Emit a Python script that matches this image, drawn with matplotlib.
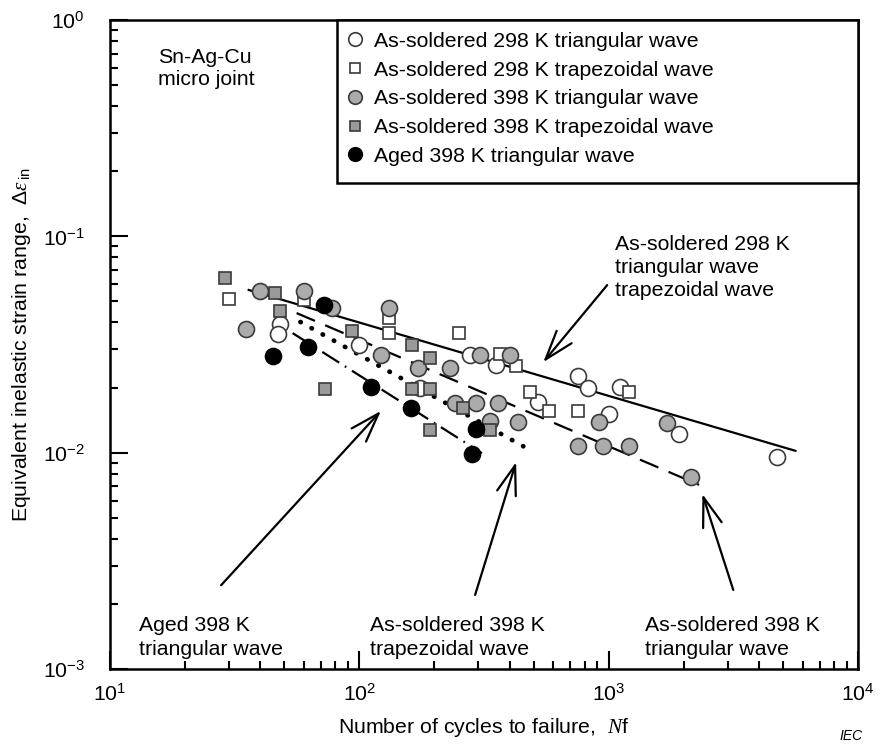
"""
Fatigue life of Sn-Ag-Cu micro joints: inelastic strain range vs cycles to failure.
"""

import matplotlib
matplotlib.use('Agg')
import matplotlib.pyplot as plt
from matplotlib.patches import Rectangle
from matplotlib.ticker import LogLocator

plt.rcParams['font.family'] = ['Liberation Sans', 'DejaVu Sans']
plt.rcParams['mathtext.fontset'] = 'custom'
plt.rcParams['mathtext.rm'] = 'Liberation Sans'
plt.rcParams['mathtext.it'] = 'Liberation Serif:italic'
plt.rcParams['mathtext.bf'] = 'Liberation Sans:bold'

# ============================================================================
# DATA
# ============================================================================

# As-soldered 298 K, triangular wave
n_298_tri = [48, 47, 100, 175, 278, 353, 521, 754, 826, 1004, 1112, 1915, 4745]
e_298_tri = [0.0393, 0.0353, 0.0314, 0.0199, 0.0283, 0.0254, 0.0171, 0.0226,
             0.0199, 0.0151, 0.0201, 0.0122, 0.0096]

# As-soldered 298 K, trapezoidal wave
n_298_trap = [30, 60, 131, 131, 251, 367, 425, 484, 577, 754, 1208]
e_298_trap = [0.0513, 0.0508, 0.0419, 0.0357, 0.0357, 0.0286, 0.0251,
              0.0191, 0.0156, 0.0156, 0.0191]

# As-soldered 398 K, triangular wave
n_398_tri = [35, 40, 60, 78, 131, 122, 172, 231, 242, 294, 360, 305, 402,
             334, 434, 914, 754, 950, 1208, 1714, 2141]
e_398_tri = [0.0373, 0.0559, 0.0559, 0.0466, 0.0466, 0.0283, 0.0246, 0.0246,
             0.0170, 0.0170, 0.0170, 0.0283, 0.0283, 0.0140, 0.0138, 0.0138,
             0.0107, 0.0107, 0.0107, 0.0137, 0.0077]

# As-soldered 398 K, trapezoidal wave
n_398_trap = [29, 46, 48, 93, 73, 163, 192, 163, 192, 192, 261, 334]
e_398_trap = [0.0641, 0.0547, 0.0451, 0.0365, 0.0197, 0.0314, 0.0274,
              0.0197, 0.0197, 0.0127, 0.0161, 0.0127]

# Aged 398 K, triangular wave
n_aged = [45, 72, 62, 111, 161, 294, 283]
e_aged = [0.0280, 0.0481, 0.0308, 0.0201, 0.0161, 0.0129, 0.0099]

# Fitted lines (end points)
fit_298_n = [36, 5600]
fit_298_e = [0.0565, 0.0102]
fit_398_tri_n = [56, 2300]
fit_398_tri_e = [0.0442, 0.0071]
fit_398_trap_n = [58, 454]
fit_398_trap_e = [0.0402, 0.0107]
fit_aged_n = [54, 310]
fit_aged_e = [0.0357, 0.00995]

LABELS = [
    'As-soldered 298 K triangular wave',
    'As-soldered 298 K trapezoidal wave',
    'As-soldered 398 K triangular wave',
    'As-soldered 398 K trapezoidal wave',
    'Aged 398 K triangular wave',
]

FS = 15.3
EDGE = '#3a3a3a'
GRAY_C = '#ababab'
GRAY_S = '#9a9a9a'

# ============================================================================
# FIGURE
# ============================================================================

fig = plt.figure(figsize=(8.94, 7.47), dpi=100)
ax = fig.add_axes([0.123, 0.1044, 0.837, 0.8688])
ax.set_xscale('log')
ax.set_yscale('log')
ax.set_xlim(10, 1e4)
ax.set_ylim(1e-3, 1)

# fit lines
ax.plot(fit_298_n, fit_298_e, color='black', lw=1.6, zorder=2)
ax.plot(fit_398_tri_n, fit_398_tri_e, color='black', lw=1.6,
        linestyle=(0, (9, 5)), zorder=2)
ax.plot(fit_398_trap_n, fit_398_trap_e, color='black', lw=3.4,
        linestyle=(0, (0.1, 2.6)), dash_capstyle='round', zorder=2)
ax.plot(fit_aged_n, fit_aged_e, color='black', lw=1.6,
        linestyle=(0, (9, 3, 0.8, 3)), zorder=2)

# data points
h1, = ax.plot(n_298_tri, e_298_tri, 'o', ms=11.5, mfc='white', mec=EDGE, mew=1.2,
              ls='none', zorder=3)
h2, = ax.plot(n_298_trap, e_298_trap, 's', ms=9, mfc='white', mec=EDGE, mew=1.2,
              ls='none', zorder=3)
h3, = ax.plot(n_398_tri, e_398_tri, 'o', ms=11.5, mfc=GRAY_C, mec=EDGE, mew=1.2,
              ls='none', zorder=3)
h4, = ax.plot(n_398_trap, e_398_trap, 's', ms=9, mfc=GRAY_S, mec=EDGE, mew=1.2,
              ls='none', zorder=3)
h5, = ax.plot(n_aged, e_aged, 'o', ms=11.5, mfc='black', mec='black', mew=1.2,
              ls='none', zorder=3)

# legend box drawn by hand, it is wider than its contents
ax.add_patch(Rectangle((0.3035, 0.749), 0.6965, 0.251, transform=ax.transAxes,
                       fill=True, fc='white', ec='black', lw=1.8, zorder=5,
                       clip_on=False))
leg = ax.legend([h1, h2, h3, h4, h5], LABELS, loc='upper left',
                bbox_to_anchor=(0.305, 0.995), borderaxespad=0, frameon=False,
                fontsize=FS, handlelength=0.8, handletextpad=0.5,
                labelspacing=0.46, markerscale=0.85)
leg.set_zorder(6)

# annotations
ax.text(0.064, 0.957, 'Sn-Ag-Cu\nmicro joint', transform=ax.transAxes,
        fontsize=FS, va='top', ha='left', linespacing=1.2)
ax.text(0.675, 0.668, 'As-soldered 298 K\ntriangular wave\ntrapezoidal wave',
        transform=ax.transAxes, fontsize=FS, va='top', ha='left', linespacing=1.26)
ax.text(0.039, 0.082, 'Aged 398 K\ntriangular wave', transform=ax.transAxes,
        fontsize=FS, va='top', ha='left', linespacing=1.32)
ax.text(0.348, 0.082, 'As-soldered 398 K\ntrapezoidal wave', transform=ax.transAxes,
        fontsize=FS, va='top', ha='left', linespacing=1.32)
ax.text(0.715, 0.082, 'As-soldered 398 K\ntriangular wave', transform=ax.transAxes,
        fontsize=FS, va='top', ha='left', linespacing=1.32)

arrow = dict(arrowstyle='->,head_length=1.5,head_width=0.5', lw=1.6,
             color='black', shrinkA=0, shrinkB=0, mutation_scale=14)
ax.annotate('', xy=(546, 0.0262), xytext=(985, 0.0595), arrowprops=arrow)
ax.annotate('', xy=(122, 0.0156), xytext=(27.9, 0.00244), arrowprops=arrow)
ax.annotate('', xy=(425, 0.00905), xytext=(291, 0.0022), arrowprops=arrow)
ax.annotate('', xy=(2372, 0.00644), xytext=(3155, 0.00232), arrowprops=arrow)

# axes styling
for side in ['top', 'right', 'bottom', 'left']:
    ax.spines[side].set_linewidth(1.8)
ax.xaxis.set_major_locator(LogLocator(base=10, numticks=10))
ax.yaxis.set_major_locator(LogLocator(base=10, numticks=10))
ax.xaxis.set_minor_locator(LogLocator(base=10, subs=range(2, 10), numticks=10))
ax.yaxis.set_minor_locator(LogLocator(base=10, subs=range(2, 10), numticks=10))
ax.tick_params(which='both', direction='in', top=False, right=False,
               labelsize=FS, width=1.5)
ax.tick_params(axis='x', which='both', pad=10)
ax.tick_params(axis='y', which='both', pad=18)
ax.tick_params(which='major', length=13)
ax.tick_params(which='minor', length=6)

ax.set_xlabel(r'Number of cycles to failure,  $N$f', fontsize=FS, labelpad=8)
ax.set_ylabel(r'Equivalent inelastic strain range,  $\Delta\varepsilon_{\,\mathrm{in}}$',
              fontsize=FS, labelpad=7)

fig.text(0.965, 0.006, 'IEC', fontsize=10, style='italic', ha='right', va='bottom')

fig.savefig('out.png', dpi=100)
